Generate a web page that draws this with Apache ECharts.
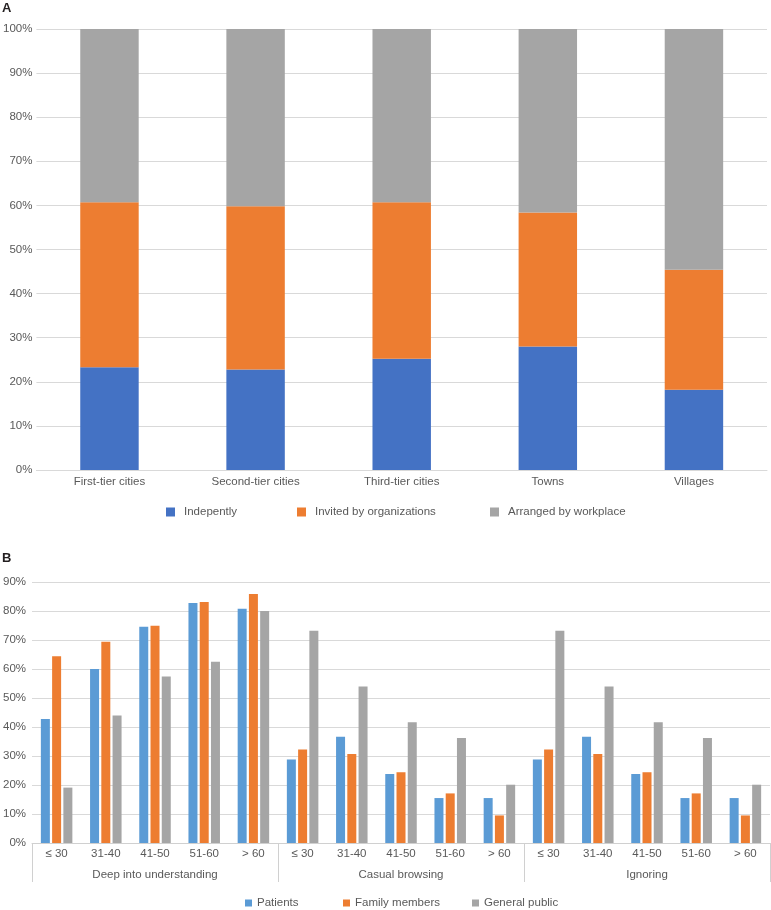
<!DOCTYPE html>
<html>
<head>
<meta charset="utf-8">
<script src="https://cdn.jsdelivr.net/npm/echarts@6/dist/echarts.min.js"></script>
<style>
  html, body { margin: 0; padding: 0; background: #ffffff; }
  #chart { width: 771px; height: 910px; }
</style>
</head>
<body>
<div id="chart"></div>
<script>
// ---------- Panel A data ----------
const locationCategories = ['First-tier cities', 'Second-tier cities', 'Third-tier cities', 'Towns', 'Villages'];
const independently = [23.3, 22.8, 25.2, 28.0, 18.2];
const invitedByOrganizations = [37.4, 37.0, 35.5, 30.4, 27.2];
const arrangedByWorkplace = [39.3, 40.2, 39.3, 41.6, 54.6];
const seriesNamesA = ['Indepently', 'Invited by organizations', 'Arranged by workplace'];

// ---------- Panel B data ----------
const ageGroups = ['≤ 30', '31-40', '41-50', '51-60', '> 60'];
const attitudeGroups = ['Deep into understanding', 'Casual browsing', 'Ignoring'];
const patients = [42.8, 60.0, 74.6, 82.8, 80.8, 28.8, 36.6, 23.8, 15.5, 15.5, 28.8, 36.6, 23.8, 15.5, 15.5];
const familyMembers = [64.4, 69.4, 74.9, 83.1, 85.9, 32.2, 30.7, 24.4, 17.1, 9.5, 32.2, 30.7, 24.4, 17.1, 9.5];
const generalPublic = [19.1, 44.0, 57.4, 62.5, 80.0, 73.2, 54.0, 41.6, 36.2, 20.1, 73.2, 54.0, 41.6, 36.2, 20.1];
const seriesNamesB = ['Patients', 'Family members', 'General public'];

// build unique category keys (group|age) for the lower axis
const categoriesB = [];
attitudeGroups.forEach(g => ageGroups.forEach(a => categoriesB.push(g + '|' + a)));

const FONT = 'Liberation Sans';
const TXT = '#595959';
const GRID_LINE = '#d9d9d9';
const AXIS_LINE = '#d0d0d0';

const colorsA = ['#4472C4', '#ED7D31', '#A5A5A5'];
const colorsB = ['#5B9BD5', '#ED7D31', '#A5A5A5'];

const chart = echarts.init(document.getElementById('chart'), null, { renderer: 'canvas' });

function legendItem(name, left, top, size, textPad) {
  return {
    data: [name], left: left, top: top, padding: 0,
    itemWidth: size, itemHeight: size, icon: 'rect',
    selectedMode: false,
    textStyle: { fontFamily: FONT, fontSize: 11.5, color: TXT, padding: [0, 0, 0, textPad] }
  };
}

const option = {
  backgroundColor: '#ffffff',
  animation: false,
  title: [
    { text: 'A', left: 2, top: 2, padding: 0, textStyle: { fontFamily: FONT, fontWeight: 'bold', fontSize: 13, color: '#231f20' } },
    { text: 'B', left: 2, top: 552, padding: 0, textStyle: { fontFamily: FONT, fontWeight: 'bold', fontSize: 13, color: '#231f20' } }
  ],
  legend: [
    legendItem(seriesNamesA[0], 166, 506, 9, 4),
    legendItem(seriesNamesA[1], 297, 506, 9, 4),
    legendItem(seriesNamesA[2], 490, 506, 9, 4),
    legendItem(seriesNamesB[0], 245, 897, 7, 0),
    legendItem(seriesNamesB[1], 343, 897, 7, 0),
    legendItem(seriesNamesB[2], 472, 897, 7, 0)
  ],
  grid: [
    { left: 35, right: 4, top: 29, bottom: 440, containLabel: false },
    { left: 31, right: 1, top: 582, bottom: 67, containLabel: false }
  ],
  xAxis: [
    {
      type: 'category', gridIndex: 0, data: locationCategories,
      axisLine: { lineStyle: { color: GRID_LINE, width: 1 } },
      axisTick: { show: false },
      axisLabel: { fontFamily: FONT, fontSize: 11.5, color: TXT, margin: 6 }
    },
    {
      type: 'category', gridIndex: 1, data: categoriesB,
      axisLine: { lineStyle: { color: AXIS_LINE, width: 1 } },
      axisTick: { show: false },
      axisLabel: {
        fontFamily: FONT, fontSize: 11.5, color: TXT, margin: 5, interval: 0,
        formatter: v => v.split('|')[1]
      }
    },
    {
      type: 'category', gridIndex: 1, data: attitudeGroups, position: 'bottom',
      axisLine: { show: false },
      axisTick: { show: true, length: 39, interval: 0, lineStyle: { color: AXIS_LINE, width: 1 } },
      axisLabel: { fontFamily: FONT, fontSize: 11.5, color: TXT, margin: 26, interval: 0 }
    }
  ],
  yAxis: [
    {
      type: 'value', gridIndex: 0, min: 0, max: 100, interval: 10,
      axisLine: { show: false }, axisTick: { show: false },
      splitLine: { lineStyle: { color: GRID_LINE, width: 1 } },
      axisLabel: { fontFamily: FONT, fontSize: 11.5, color: TXT, margin: 4, formatter: '{value}%' }
    },
    {
      type: 'value', gridIndex: 1, min: 0, max: 90, interval: 10,
      axisLine: { show: false }, axisTick: { show: false },
      splitLine: { lineStyle: { color: GRID_LINE, width: 1 } },
      axisLabel: { fontFamily: FONT, fontSize: 11.5, color: TXT, margin: 6, formatter: '{value}%' }
    }
  ],
  series: [
    { name: seriesNamesA[0], type: 'bar', stack: 'A', xAxisIndex: 0, yAxisIndex: 0, data: independently, barWidth: '40%', itemStyle: { color: colorsA[0] } },
    { name: seriesNamesA[1], type: 'bar', stack: 'A', xAxisIndex: 0, yAxisIndex: 0, data: invitedByOrganizations, barWidth: '40%', itemStyle: { color: colorsA[1] } },
    { name: seriesNamesA[2], type: 'bar', stack: 'A', xAxisIndex: 0, yAxisIndex: 0, data: arrangedByWorkplace, barWidth: '40%', itemStyle: { color: colorsA[2] } },
    { name: seriesNamesB[0], type: 'bar', xAxisIndex: 1, yAxisIndex: 1, data: patients, barWidth: 9, barGap: '25%', itemStyle: { color: colorsB[0] } },
    { name: seriesNamesB[1], type: 'bar', xAxisIndex: 1, yAxisIndex: 1, data: familyMembers, barWidth: 9, barGap: '25%', itemStyle: { color: colorsB[1] } },
    { name: seriesNamesB[2], type: 'bar', xAxisIndex: 1, yAxisIndex: 1, data: generalPublic, barWidth: 9, barGap: '25%', itemStyle: { color: colorsB[2] } }
  ]
};

chart.setOption(option);
</script>
</body>
</html>
